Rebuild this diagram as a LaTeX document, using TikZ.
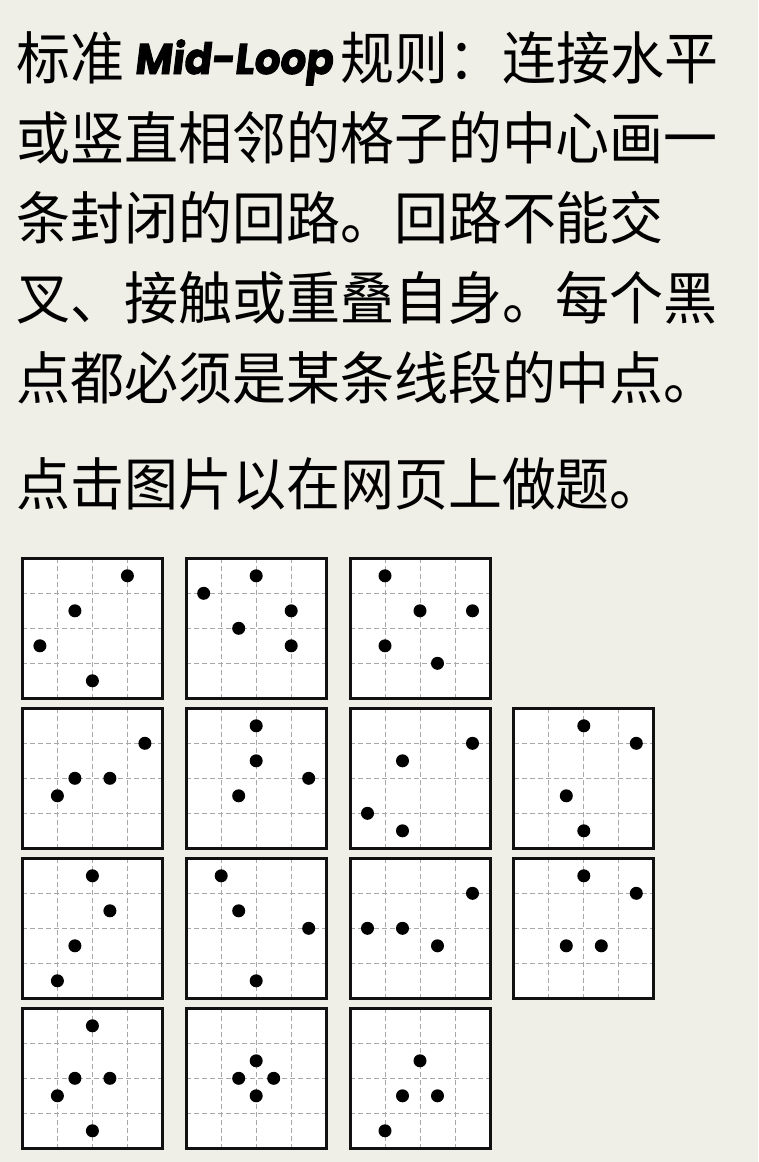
\documentclass[tikz,border=0pt]{standalone}
\usepackage{fontspec}
\newfontfamily\cjk{Noto Sans CJK SC}[FakeStretch=0.947]
\newfontfamily\midfont{Poppins}[FakeSlant=0.12,FakeBold=2.2,FakeStretch=0.94]
\definecolor{bg}{RGB}{239,239,231}
\definecolor{dashgray}{RGB}{168,168,168}
\definecolor{framec}{RGB}{17,17,17}
\tikzset{
  txt/.style={anchor=base west, inner sep=0pt, font=\cjk\fontsize{57}{80}\selectfont, text=black},
  midtxt/.style={anchor=base west, inner sep=0pt, font=\midfont\bfseries\fontsize{43}{43}\selectfont, text=black},
  gridline/.style={draw=dashgray, line width=1pt, dash pattern=on 5pt off 3pt},
  frameline/.style={draw=framec, line width=3pt},
  puzzlebox/.style={draw=none, fill=white, minimum size=140pt, inner sep=0pt, anchor=north west},
  blackdot/.style={fill=black},
}
\newcommand\mlpuzzle[4]{%
  \begin{scope}[shift={(#2,#3)}]
    \node[puzzlebox] (#1) at (0,0) {};
    \foreach \k in {35,70,105} {
      \draw[gridline] (\k,0) -- (\k,140);
      \draw[gridline] (0,\k) -- (140,\k);
    }
    \draw[frameline] (0,0) rectangle (140,140);
    \foreach \a/\b in {#4} { \fill[blackdot] (17.5*\a,17.5*\b) circle (6.5pt); }
  \end{scope}}
\begin{document}
\begin{tikzpicture}[x=1pt,y=-1pt]
\useasboundingbox (0,0) rectangle (758,1162);
\fill[bg] (0,0) rectangle (758,1162);
% text
\node[txt] (t1a) at (16,79.3) {标准};
\node[midtxt] (t1b) at (134,74) {Mid-Loop};
\node[txt] (t1c) at (340,79.3) {规则：连接水平};
\node[txt] (t2) at (16,159.3) {或竖直相邻的格子的中心画一};
\node[txt] (t3) at (16,239.3) {条封闭的回路。回路不能交};
\node[txt] (t4) at (16,319.3) {叉、接触或重叠自身。每个黑};
\node[txt] (t5) at (16,399.3) {点都必须是某条线段的中点。};
\node[txt] (t6) at (16,505.3) {点击图片以在网页上做题。};
% puzzles
\def\cA{22.4}\def\cB{186.2}\def\cC{350.0}\def\cD{513.8}
\def\rA{558.3}\def\rB{708.3}\def\rC{858.3}\def\rD{1008.3}
\mlpuzzle{p11}{\cA}{\rA}{6/1,3/3,1/5,4/7}
\mlpuzzle{p12}{\cB}{\rA}{4/1,1/2,6/3,3/4,6/5}
\mlpuzzle{p13}{\cC}{\rA}{2/1,4/3,7/3,2/5,5/6}
\mlpuzzle{p21}{\cA}{\rB}{7/2,3/4,5/4,2/5}
\mlpuzzle{p22}{\cB}{\rB}{4/1,4/3,7/4,3/5}
\mlpuzzle{p23}{\cC}{\rB}{7/2,3/3,1/6,3/7}
\mlpuzzle{p24}{\cD}{\rB}{4/1,7/2,3/5,4/7}
\mlpuzzle{p31}{\cA}{\rC}{4/1,5/3,3/5,2/7}
\mlpuzzle{p32}{\cB}{\rC}{2/1,3/3,7/4,4/7}
\mlpuzzle{p33}{\cC}{\rC}{7/2,1/4,3/4,5/5}
\mlpuzzle{p34}{\cD}{\rC}{4/1,7/2,3/5,5/5}
\mlpuzzle{p41}{\cA}{\rD}{4/1,3/4,5/4,2/5,4/7}
\mlpuzzle{p42}{\cB}{\rD}{4/3,3/4,5/4,4/5}
\mlpuzzle{p43}{\cC}{\rD}{4/3,3/5,5/5,2/7}
\end{tikzpicture}
\end{document}
